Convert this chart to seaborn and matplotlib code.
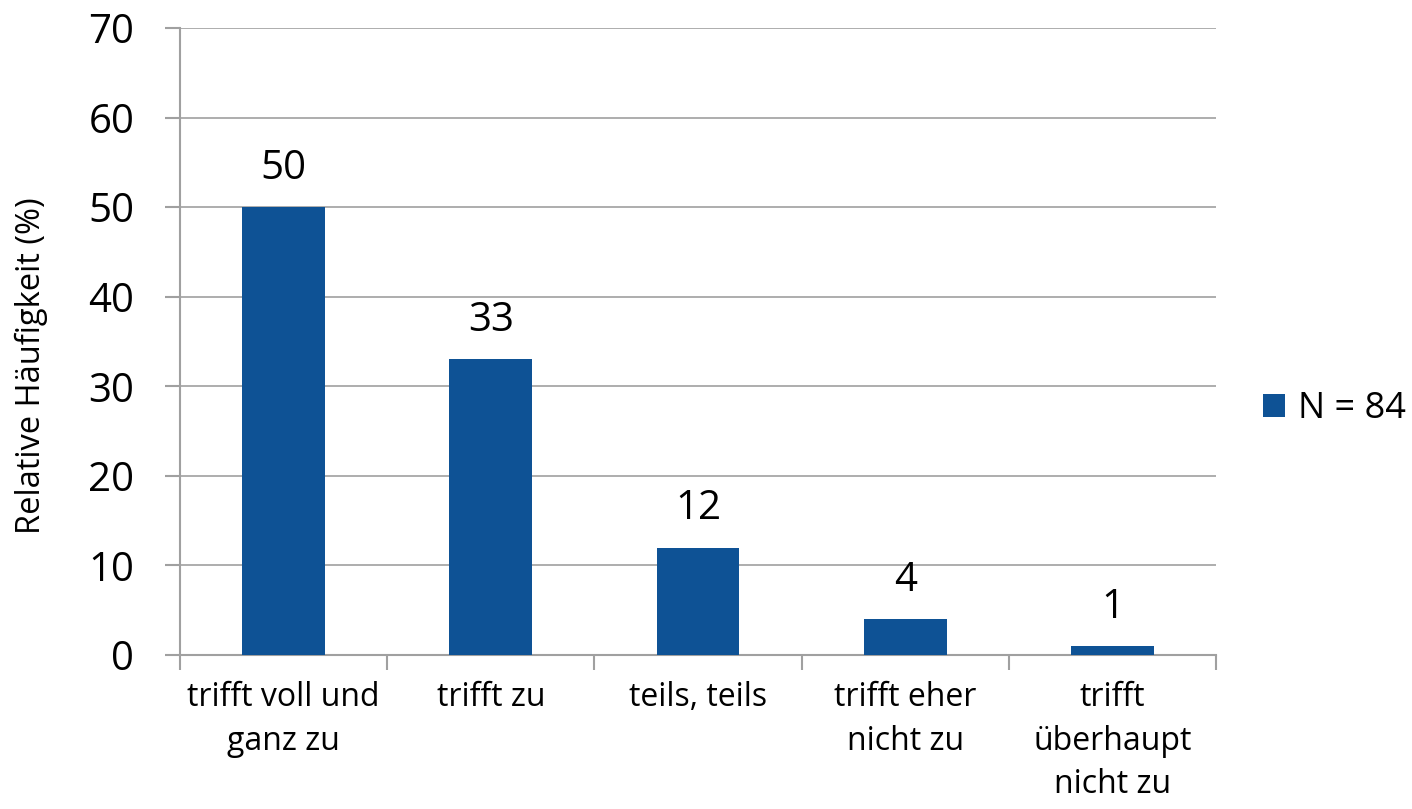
import matplotlib
matplotlib.use("Agg")
import matplotlib.pyplot as plt
import seaborn as sns
import pandas as pd

categories = ["trifft voll und\nganz zu", "trifft zu", "teils, teils",
              "trifft eher\nnicht zu", "trifft\nüberhaupt\nnicht zu"]
values = [50, 33, 12, 4, 1]
series_name = "N = 84"
y_ticks = [0, 10, 20, 30, 40, 50, 60, 70]

sns.set_theme(style="white")
plt.rcParams['font.family'] = ['Open Sans', 'DejaVu Sans']
plt.rcParams['text.color'] = 'black'
plt.rcParams['xtick.color'] = 'black'
plt.rcParams['ytick.color'] = 'black'
plt.rcParams['axes.labelcolor'] = 'black'

df = pd.DataFrame({"cat": categories, "val": values, "series": series_name})

fig = plt.figure(figsize=(14.12, 8.09), dpi=100)
ax = fig.add_axes([180/1412, 1-655/809, (1216-180)/1412, (655-28)/809])

bar_color = "#0E5295"
sns.barplot(data=df, x="cat", y="val", hue="series", palette=[bar_color],
            width=0.4, ax=ax, saturation=1, linewidth=0, zorder=3)

ax.set_ylim(0, 70)
ax.set_xlim(-0.5, len(categories) - 0.5)
ax.set_yticks(y_ticks)
ax.yaxis.grid(True, color="#A0A0A0", linewidth=1.2, zorder=0)
ax.set_axisbelow(True)

for spine in ["top", "right"]:
    ax.spines[spine].set_visible(False)
for spine in ["left", "bottom"]:
    ax.spines[spine].set_color("#A0A0A0")
    ax.spines[spine].set_linewidth(1.5)

ax.tick_params(axis="y", which="major", direction="out", length=11, width=1.5,
               color="#A0A0A0", labelcolor="black", labelsize=29, pad=22, left=True)
ax.set_xticks(range(len(categories)))
ax.set_xticklabels(categories, fontsize=23, linespacing=1.42)
ax.tick_params(axis="x", which="major", length=0, pad=19, labelcolor="black")
ax.set_xticks([i - 0.5 for i in range(len(categories) + 1)], minor=True)
ax.tick_params(axis="x", which="minor", direction="out", length=11, width=1.5,
               color="#A0A0A0", bottom=True)

ax.set_xlabel("")
ax.set_ylabel("Relative Häufigkeit (%)", fontsize=23.5)
ax.yaxis.label.set_va("center")
ax.yaxis.set_label_coords((31 - 180) / 1036, (655 - 366) / 627)

for cont in ax.containers:
    ax.bar_label(cont, labels=[str(v) for v in values], fontsize=29, padding=13,
                 color="black")

leg = ax.legend(loc="center left", bbox_to_anchor=(1.045, 0.392), frameon=False,
                fontsize=26, handlelength=0.63, handleheight=0.63,
                handletextpad=0.35, borderpad=0, borderaxespad=0)
for t in leg.get_texts():
    t.set_color("black")

fig.savefig("out.png", dpi=100)
